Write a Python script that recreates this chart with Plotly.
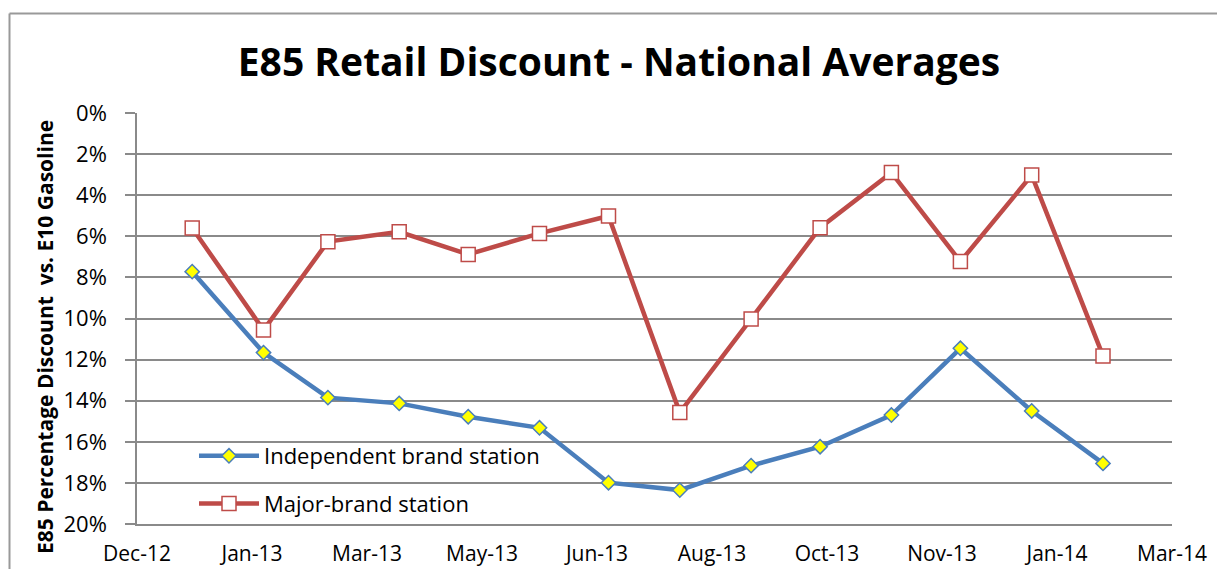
import plotly.graph_objects as go

months = ["2013-01-01", "2013-02-01", "2013-03-01", "2013-04-01", "2013-05-01",
          "2013-06-01", "2013-07-01", "2013-08-01", "2013-09-01", "2013-10-01",
          "2013-11-01", "2013-12-01", "2014-01-01", "2014-02-01"]
independent = [7.72, 11.66, 13.85, 14.13, 14.78, 15.32, 17.99, 18.35, 17.16, 16.24,
               14.70, 11.45, 14.50, 17.05]
major = [5.60, 10.56, 6.26, 5.78, 6.88, 5.86, 5.01, 14.58, 10.02, 5.58,
         2.90, 7.23, 3.02, 11.82]

x_start = "2012-12-08"
x_end = "2014-03-03"
tick_step_days = 50
y_ticks = [0, 2, 4, 6, 8, 10, 12, 14, 16, 18, 20]
y_labels = [f"{v}%" for v in y_ticks]

FONT = "Open Sans"
GRID = "#8a8a8a"
BLUE = "#4A7EBB"
RED = "#BE4B48"

fig = go.Figure()
fig.add_trace(go.Scatter(
    x=months, y=independent, mode="lines+markers",
    name="Independent brand station", legendgroup="a",
    line=dict(color=BLUE, width=4.5),
    marker=dict(symbol="diamond", size=11, color="#FFFF00",
                line=dict(color=BLUE, width=1.5)),
))
fig.add_trace(go.Scatter(
    x=months, y=major, mode="lines+markers",
    name="Major-brand station", legendgroup="b",
    line=dict(color=RED, width=4.5),
    marker=dict(symbol="square", size=14, color="#FFFFFF",
                line=dict(color=RED, width=1.5)),
))

# page body has an 8px margin: screen px = figure px + 8
OFF = 8
W, H = 1225, 569
L = 137 - OFF
T = 113 - OFF
R = W - (1172 - OFF)
B = H - (524 - OFF)
pw, ph = W - L - R, H - T - B

def px_x(p):  # screen px -> paper x
    return (p - OFF - L) / pw

def px_y(p):  # screen px -> paper y
    return (H - B - (p - OFF)) / ph

fig.update_layout(
    width=W, height=H,
    margin=dict(l=L, r=R, t=T, b=B, autoexpand=False),
    paper_bgcolor="white", plot_bgcolor="white",
    font=dict(family=FONT, color="#000000"),
    title=dict(text="<b>E85 Retail Discount - National Averages</b>",
               font=dict(family=FONT, size=39, color="#000000"),
               x=(619 - OFF) / W, xanchor="center", xref="container",
               y=1 - (62 - OFF) / H, yanchor="middle", yref="container"),
    showlegend=True,
    legend=dict(x=px_x(194), y=px_y(435), xanchor="left", yanchor="top",
                bgcolor="rgba(0,0,0,0)", font=dict(family=FONT, size=22, color="#000000"),
                tracegroupgap=16, itemwidth=60),
    xaxis=dict(type="date", range=[x_start, x_end], tick0=x_start,
               dtick=tick_step_days * 86400000, tickformat="%b-%y",
               showgrid=False, zeroline=False, ticks="", automargin=False,
               showline=True, linecolor=GRID, linewidth=1.5,
               ticklabelstandoff=10,
               tickfont=dict(family=FONT, size=21, color="#000000")),
    xaxis2=dict(type="date", range=[x_start, x_end], tick0=x_start,
                dtick=tick_step_days * 86400000, overlaying="x", side="top",
                anchor="y", showticklabels=False, showgrid=False, zeroline=False,
                ticks="outside", ticklen=8, tickwidth=1.5, tickcolor=GRID,
                automargin=False,
                showline=True, linecolor=GRID, linewidth=1.5),
    yaxis=dict(range=[20, 0], tickvals=y_ticks, ticktext=y_labels,
               showgrid=True, gridcolor=GRID, gridwidth=1.5, zeroline=False,
               showline=True, linecolor=GRID, linewidth=1.5, automargin=False,
               ticks="outside", ticklen=10, tickwidth=1.5, tickcolor=GRID,
               ticklabelstandoff=14,
               tickfont=dict(family=FONT, size=22, color="#000000")),
)

fig.add_annotation(
    text="<b>E85 Percentage Discount  vs. E10 Gasoline</b>",
    textangle=-90, xref="paper", yref="paper",
    x=px_x(45), y=px_y(337), xanchor="center", yanchor="middle",
    showarrow=False, font=dict(family=FONT, size=21, color="#000000"),
)

# outer chart-area border (top and left edges visible in the crop)
fig.add_shape(type="line", xref="paper", yref="paper",
              x0=px_x(9.5), x1=px_x(9.5), y0=px_y(H + 40), y1=px_y(13.5),
              line=dict(color="#999999", width=2))
fig.add_shape(type="line", xref="paper", yref="paper",
              x0=px_x(9.5), x1=px_x(W + 40), y0=px_y(13.5), y1=px_y(13.5),
              line=dict(color="#999999", width=2))

fig.write_html("out.html")
